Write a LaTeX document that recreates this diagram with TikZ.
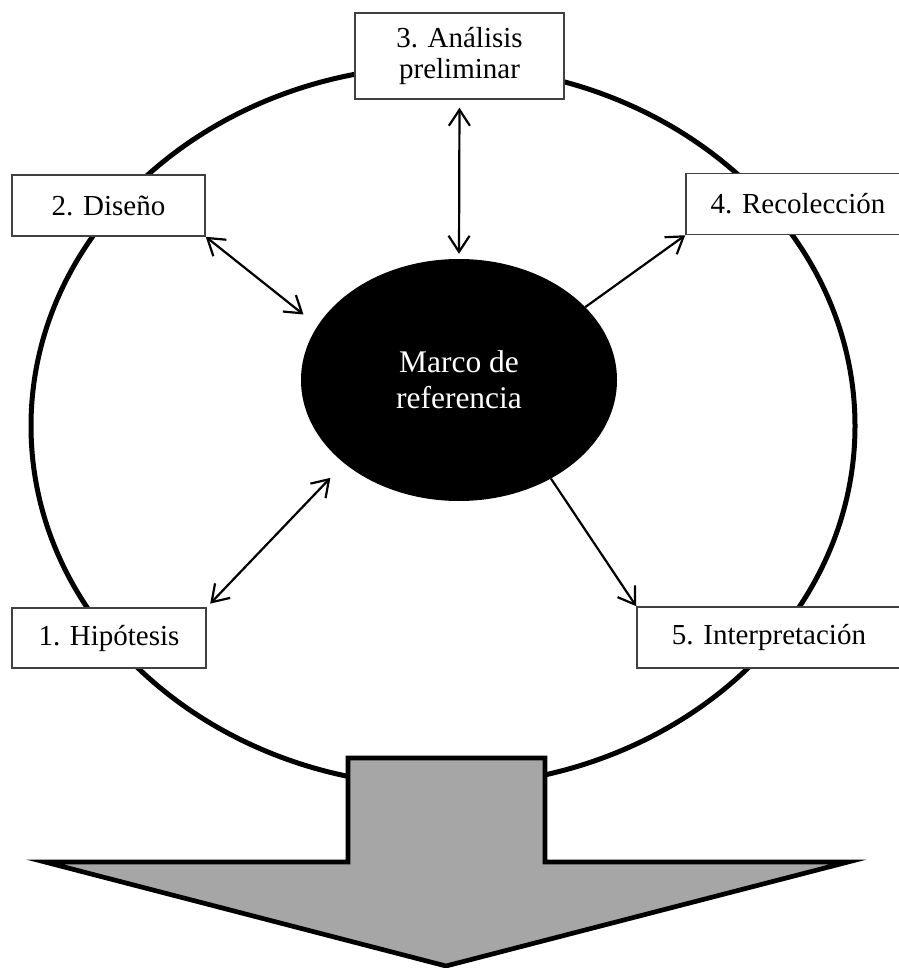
\documentclass[tikz,border=0pt]{standalone}
\usepackage{fontspec}
\setmainfont{Liberation Serif}
\usepackage{xcolor}
\usepackage{tikz}
\usetikzlibrary{shapes.geometric, arrows.meta, positioning}
\definecolor{arrowgray}{HTML}{A6A6A6}
\tikzset{
    stage/.style={
        rectangle,
        draw=black!75,
        line width=1.5pt,
        fill=white,
        inner sep=0pt,
        minimum height=61pt,
        align=center,
        font=\fontsize{29}{31}\selectfont
    },
    core/.style={
        ellipse,
        fill=black,
        text=white,
        inner sep=0pt,
        minimum width=316pt,
        minimum height=242pt,
        align=center,
        font=\fontsize{31.5}{36}\selectfont
    },
    ring/.style={
        draw=black,
        line width=5pt
    },
    link/.style={
        draw=black,
        line width=2.2pt,
        arrows={Straight Barb[length=16pt,width=21pt]-Straight Barb[length=16pt,width=21pt]}
    },
    onelink/.style={
        draw=black,
        line width=2.2pt,
        -{Straight Barb[length=16pt,width=21pt]}
    },
    bigarrow/.style={
        draw=black,
        line width=4.7pt,
        fill=arrowgray
    }
}
\begin{document}
\begin{tikzpicture}[x=1pt, y=-1pt]

\useasboundingbox (0,0) rectangle (898,968);

% outer cycle
\draw[ring] (443,426) ellipse (412 and 360);

% output arrow
\draw[bigarrow] (348,758) -- (545,758) -- (545,862) -- (848,862) -- (446,966)
    -- (45,862) -- (348,862) -- cycle;

\node[core] (marco) at (459,380) {Marco de\\referencia};

\node[stage, minimum width=209pt, minimum height=86pt] (analisis) at (459.5,56) {3. Análisis\\preliminar};
\node[stage, minimum width=193pt] (diseno) at (108.5,205.5) {2. Diseño};
\node[stage, minimum width=224pt] (recoleccion) at (798,204) {4. Recolección};
\node[stage, minimum width=194pt, minimum height=60pt] (hipotesis) at (109,638) {1. Hipótesis};
\node[stage, minimum width=264pt] (interpretacion) at (769,637.5) {5. Interpretación};

\draw[link, shorten <=8pt, shorten >=5pt] (analisis.south) -- (marco.north);
\draw[link, shorten >=18pt] (diseno.south east) -- (marco.159);
\draw[link, shorten <=5pt, shorten >=20pt] (hipotesis.north east) -- (marco.216);
\draw[onelink] (marco.30) -- (recoleccion.south west);
\draw[onelink] (marco.313) -- (interpretacion.north west);

\end{tikzpicture}
\end{document}
